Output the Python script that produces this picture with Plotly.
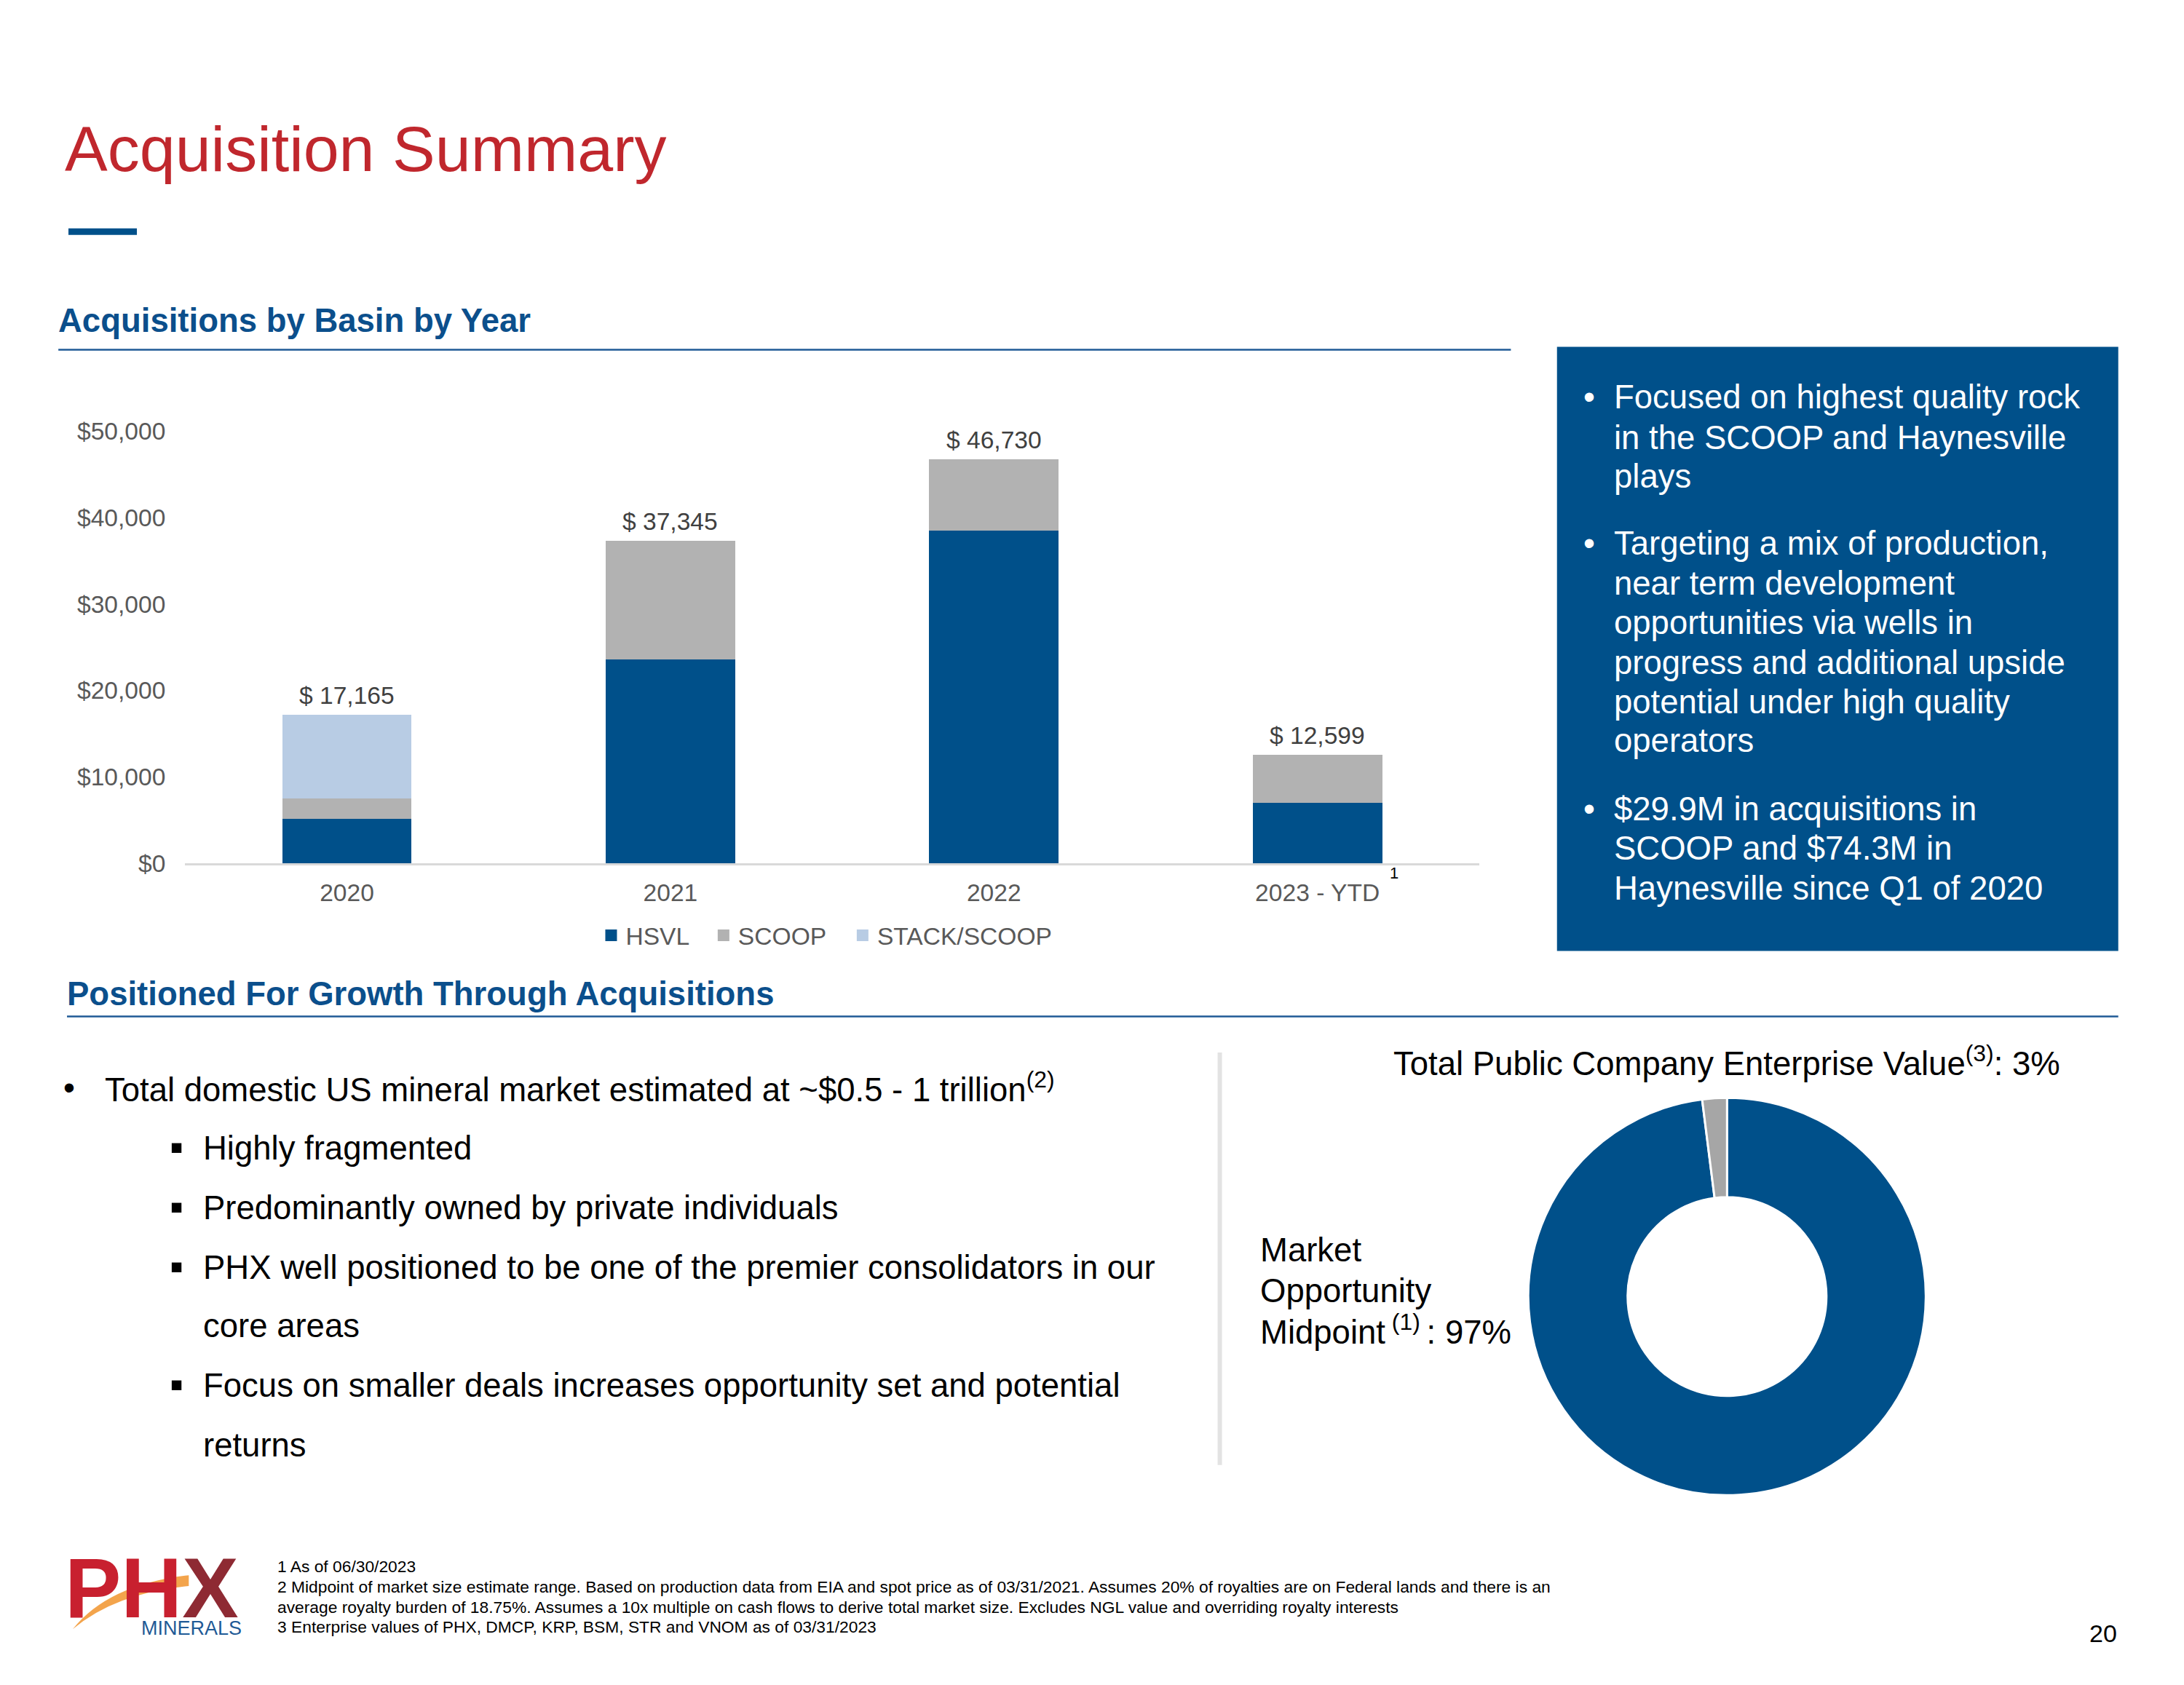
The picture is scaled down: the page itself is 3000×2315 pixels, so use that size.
import plotly.graph_objects as go

W, H = 3000, 2315

# ---------------- data ----------------
categories = ["2020", "2021", "2022", "2023 - YTD"]
series_names = ["HSVL", "SCOOP", "STACK/SCOOP"]
hsvl = [5200, 23600, 38500, 7000]
scoop = [2300, 13745, 8230, 5599]
stack_scoop = [9665, 0, 0, 0]
y_ticks = [0, 10000, 20000, 30000, 40000, 50000]
y_tick_labels = [f"${v:,}" for v in y_ticks]

pie_labels = ["Market Opportunity Midpoint", "Total Public Company Enterprise Value"]
pie_values = [98.0, 2.0]

box_bullets = [
    ["Focused on highest quality rock", "in the SCOOP and Haynesville", "plays"],
    ["Targeting a mix of production,", "near term development", "opportunities via wells in",
     "progress and additional upside", "potential under high quality", "operators"],
    ["$29.9M in acquisitions in", "SCOOP and $74.3M in", "Haynesville since Q1 of 2020"],
]
left_main = "Total domestic US mineral market estimated at ~$0.5 - 1 trillion<sup>(2)</sup>"
left_sub = [
    ("Highly fragmented", True),
    ("Predominantly owned by private individuals", True),
    ("PHX well positioned to be one of the premier consolidators in our", True),
    ("core areas", False),
    ("Focus on smaller deals increases opportunity set and potential", True),
    ("returns", False),
]
footnotes = [
    "1 As of 06/30/2023",
    "2 Midpoint of market size estimate range. Based on production data from EIA and spot price as of 03/31/2021. Assumes 20% of royalties are on Federal lands and there is an",
    "average royalty burden of 18.75%. Assumes a 10x multiple on cash flows to derive total market size. Excludes NGL value and overriding royalty interests",
    "3 Enterprise values of PHX, DMCP, KRP, BSM, STR and VNOM as of 03/31/2023",
]

# ---------------- style ----------------
FONT = "Liberation Sans, Arial, sans-serif"
BLUE = "#00508A"
GRAY = "#B2B2B2"
LIGHT = "#B8CCE4"
RED = "#C0272D"
HEAD = "#0B4F8C"
series_colors = [BLUE, GRAY, LIGHT]
legend_ids = ["legend", "legend2", "legend3"]
legend_x = [828, 984, 1177]

SX = 0.9897   # horizontal layout coordinates below were measured on a slightly larger grid
DX = -8
DY = -13.4


def px(x):
    return (x * SX + DX) / W


def py(y):
    return 1 - (y + DY) / H


fig = go.Figure()
for name, vals, col in zip(series_names, [hsvl, scoop, stack_scoop], series_colors):
    fig.add_bar(x=categories, y=vals, name=name, marker_color=col, marker_line_width=0, showlegend=False)
# legend entries (square swatches like the original)
for name, col, lid in zip(series_names, series_colors, legend_ids):
    fig.add_scatter(x=[None], y=[None], mode="markers", name=name, legend=lid,
                    marker=dict(symbol="square", size=19, color=col), hoverinfo="skip")

fig.add_pie(
    labels=pie_labels, values=pie_values, hole=0.5, sort=False, direction="clockwise",
    marker=dict(colors=[BLUE, "#A6A6A6"], line=dict(color="white", width=3)),
    textinfo="none", showlegend=False, hoverinfo="label+percent",
    domain=dict(x=[px(2397 - 276), px(2397 + 276)], y=[py(1800 + 276), py(1800 - 276)]),
)

annotations = []
shapes = []


def txt(x, y, text, size, color="black", xanchor="left", bold=False):
    if bold:
        text = "<b>" + text + "</b>"
    annotations.append(dict(
        x=px(x), y=py(y), xref="paper", yref="paper", text=text, showarrow=False,
        xanchor=xanchor, yanchor="middle", font=dict(family=FONT, size=size, color=color),
    ))


BODY = 45.5

# totals above bars (x given as category index so it cannot be read as a number)
totals = [a + b + c for a, b, c in zip(hsvl, scoop, stack_scoop)]
for i, tot in enumerate(totals):
    annotations.append(dict(
        x=i, y=tot, xref="x", yref="y", text=f"$ {tot:,}", showarrow=False,
        yanchor="bottom", yshift=6, font=dict(family=FONT, size=33.6, color="#404040"),
    ))

# title & headings
txt(88, 206, "Acquisition Summary", 88, RED)
shapes.append(dict(type="line", xref="paper", yref="paper", x0=px(95), x1=px(190), y0=py(321), y1=py(321),
                   line=dict(color=BLUE, width=9)))
txt(79, 445, "Acquisitions by Basin by Year", BODY, HEAD, bold=True)
shapes.append(dict(type="line", xref="paper", yref="paper", x0=px(81), x1=px(2097), y0=py(485), y1=py(485),
                   line=dict(color="#1F5A96", width=2.5)))
txt(91, 1380, "Positioned For Growth Through Acquisitions", BODY, HEAD, bold=True)
shapes.append(dict(type="line", xref="paper", yref="paper", x0=px(93), x1=px(2940), y0=py(1411), y1=py(1411),
                   line=dict(color="#1F5A96", width=2.5)))

# blue box
shapes.append(dict(type="rect", xref="paper", yref="paper", x0=px(2161), x1=px(2940), y0=py(1320), y1=py(481),
                   fillcolor=BLUE, line=dict(width=0), layer="below"))
box_y = [[551, 607, 661], [754, 810, 864, 920, 974, 1028], [1123, 1177, 1233]]
for lines, ys in zip(box_bullets, box_y):
    txt(2196, ys[0], "•", BODY, "white")
    for line, yy in zip(lines, ys):
        txt(2238, yy, line, BODY, "white")

# superscript near 2023
txt(1927, 1212, "1", 22, "black")

# left bullets
txt(86, 1510, "•", BODY)
txt(143, 1510, left_main, BODY)
sub_y = [1594, 1677, 1760, 1841, 1924, 2006]
for (line, has_b), yy in zip(left_sub, sub_y):
    if has_b:
        txt(233, yy - 3, "▪", 54)
    txt(280, yy, line, BODY)

# divider
shapes.append(dict(type="line", xref="paper", yref="paper", x0=px(1693), x1=px(1693), y0=py(1461), y1=py(2034),
                   line=dict(color="#E3E3E3", width=6)))

# pie labels
txt(2397, 1473, "Total Public Company Enterprise Value<sup>(3)</sup>: 3%", BODY, xanchor="center")
txt(1747, 1736, "Market", BODY)
txt(1747, 1792, "Opportunity", BODY)
txt(1747, 1846, "Midpoint<sup> (1) </sup>: 97%", BODY)

# footnotes
for line, yy in zip(footnotes, [2175, 2203, 2231, 2259]):
    txt(383, yy, line, 22.8)

# page number
txt(2919, 2268, "20", 34, xanchor="center")

# logo
swoosh = (f"M {px(101)},{py(2262)} Q {px(150)},{py(2200)} {px(262)},{py(2187)} "
          f"L {px(262)},{py(2202)} Q {px(160)},{py(2212)} {px(101)},{py(2262)} Z")
shapes.append(dict(type="path", xref="paper", yref="paper", path=swoosh, fillcolor="#F29A38",
                   line=dict(width=0), opacity=0.9))
txt(211, 2205, '<b>PH<span style="color:#8E2A33">X</span></b>', 116, "#C8202F", xanchor="center")
txt(266, 2261, "MINERALS", 27, "#1F5A96", xanchor="center")

legend_common = dict(orientation="h", xanchor="left", y=py(1298.4), yanchor="middle",
                     traceorder="normal", font=dict(family=FONT, size=33.6, color="#595959"),
                     bgcolor="rgba(0,0,0,0)", itemclick=False, itemdoubleclick=False)

fig.update_layout(
    width=W, height=H, margin=dict(l=0, r=0, t=0, b=0),
    paper_bgcolor="white", plot_bgcolor="white",
    barmode="stack", bargap=0.6,
    font=dict(family=FONT, size=33.6, color="#595959"),
    xaxis=dict(domain=[px(257), px(2053)], type="category", range=[-0.5, 3.5], showgrid=False,
               zeroline=False, showline=True, linecolor="#D9D9D9", linewidth=3, ticks="",
               tickfont=dict(size=33.6, color="#595959"), ticklabelstandoff=8),
    yaxis=dict(domain=[py(1198.5), py(586)], range=[0, 51000], tickvals=y_ticks,
               ticktext=y_tick_labels, showgrid=False, zeroline=False, showline=False,
               ticks="", tickfont=dict(size=33.6, color="#595959"), ticklabelstandoff=26),
    legend=dict(x=px(legend_x[0]), **legend_common),
    legend2=dict(x=px(legend_x[1]), **legend_common),
    legend3=dict(x=px(legend_x[2]), **legend_common),
    annotations=annotations, shapes=shapes,
)

fig.write_html("out.html")
